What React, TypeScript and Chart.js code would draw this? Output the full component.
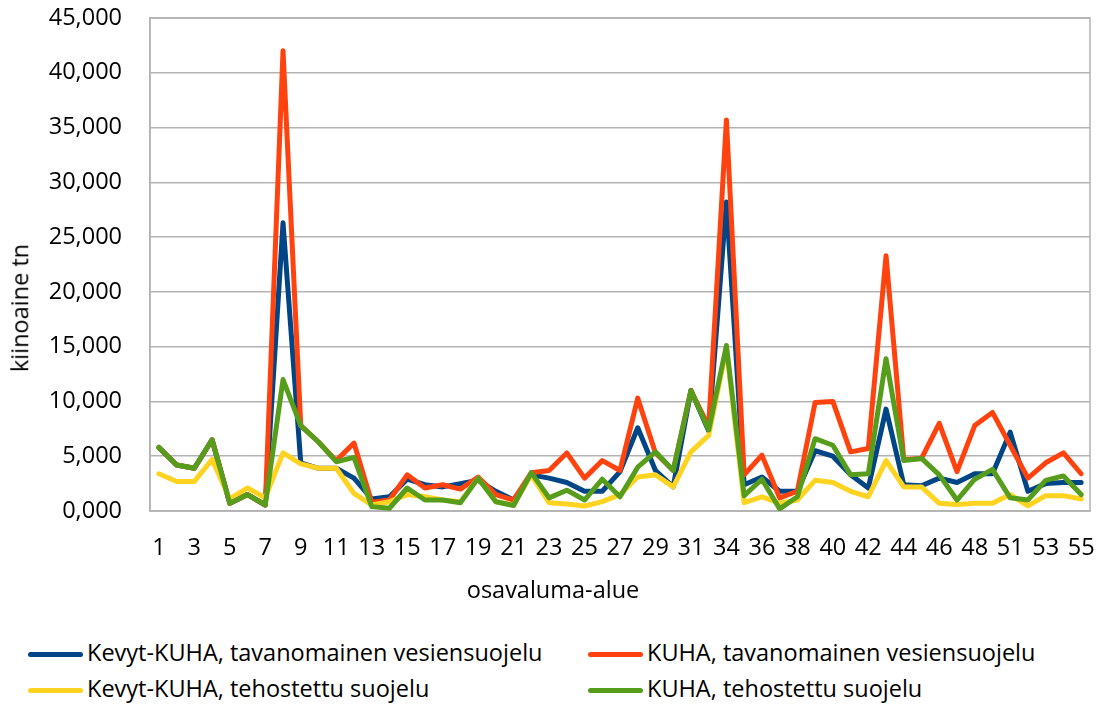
import React, { useEffect, useRef } from 'react';
import { Chart, registerables } from 'chart.js';

Chart.register(...registerables);

const categories = [
  '1', '2', '3', '4', '5', '6', '7', '8', '9', '10', '11', '12', '13', '14', '15', '16',
  '17', '18', '19', '20', '21', '22', '23', '24', '25', '26', '27', '28', '29', '30', '31', '32',
  '34', '35', '36', '37', '38', '39', '40', '41', '42', '43', '44', '45', '46', '47', '48', '49',
  '51', '52', '53', '54', '55',
];

const kevytTavanomainen = [
  5.8, 4.2, 3.9, 6.5, 0.7, 1.5, 0.55, 26.3, 4.4, 3.9,
  3.9, 3.0, 1.1, 1.3, 2.9, 2.4, 2.2, 2.5, 2.8, 1.8,
  1.0, 3.3, 3.0, 2.6, 1.8, 1.8, 3.6, 7.6, 3.7, 2.2,
  11.0, 7.3, 28.2, 2.4, 3.1, 1.8, 1.8, 5.5, 5.0, 3.3,
  2.1, 9.3, 2.4, 2.3, 3.0, 2.6, 3.4, 3.4, 7.2, 1.8,
  2.5, 2.6, 2.6,
];

const kuhaTavanomainen = [
  5.8, 4.2, 3.9, 6.5, 0.7, 1.5, 0.55, 42.0, 7.8, 6.3,
  4.6, 6.2, 0.8, 1.0, 3.3, 2.1, 2.4, 2.0, 3.1, 1.5,
  1.0, 3.5, 3.7, 5.3, 3.0, 4.6, 3.7, 10.3, 5.3, 3.7,
  11.0, 7.7, 35.7, 3.3, 5.1, 1.2, 1.8, 9.9, 10.0, 5.4,
  5.7, 23.3, 4.7, 4.8, 8.0, 3.6, 7.8, 9.0, 6.0, 3.0,
  4.4, 5.3, 3.4,
];

const kevytTehostettu = [
  3.4, 2.7, 2.7, 4.7, 1.1, 2.1, 1.2, 5.3, 4.3, 3.9,
  3.9, 1.6, 0.55, 0.85, 1.5, 1.3, 1.0, 0.85, 3.0, 0.85,
  0.55, 3.3, 0.76, 0.64, 0.46, 0.85, 1.5, 3.1, 3.3, 2.2,
  5.4, 6.9, 14.8, 0.76, 1.3, 0.7, 1.0, 2.8, 2.6, 1.8,
  1.3, 4.6, 2.2, 2.2, 0.7, 0.6, 0.7, 0.7, 1.5, 0.46,
  1.4, 1.4, 1.1,
];

const kuhaTehostettu = [
  5.8, 4.2, 3.9, 6.5, 0.7, 1.5, 0.55, 12.0, 7.8, 6.3,
  4.5, 4.9, 0.4, 0.25, 2.1, 1.0, 1.0, 0.76, 3.0, 0.85,
  0.5, 3.5, 1.2, 1.9, 1.0, 2.9, 1.3, 4.0, 5.4, 3.7,
  11.0, 7.4, 15.1, 1.4, 2.9, 0.2, 1.3, 6.6, 6.0, 3.3,
  3.4, 13.9, 4.6, 4.8, 3.3, 1.0, 2.9, 3.8, 1.2, 1.0,
  2.8, 3.2, 1.5,
];

const seriesNames = [
  'Kevyt-KUHA, tavanomainen vesiensuojelu',
  'KUHA, tavanomainen vesiensuojelu',
  'Kevyt-KUHA, tehostettu suojelu',
  'KUHA, tehostettu suojelu',
];
const seriesColors = ['#004586', '#ff420e', '#ffd320', '#579d1c'];
const seriesValues = [kevytTavanomainen, kuhaTavanomainen, kevytTehostettu, kuhaTehostettu];

const yMin = 0;
const yMax = 45;
const yStep = 5;
const yTitle = 'kiinoaine tn';
const xTitle = 'osavaluma-alue';

const FONT = "'Open Sans', sans-serif";
const FS = 23.5;
const GRID = '#b3b3b3';

const frame = {
  id: 'frame',
  beforeDatasetsDraw(chart: any) {
    const { ctx, chartArea } = chart;
    ctx.save();
    ctx.strokeStyle = GRID;
    ctx.lineWidth = 1.5;
    ctx.strokeRect(chartArea.left, chartArea.top, chartArea.right - chartArea.left, chartArea.bottom - chartArea.top);
    ctx.restore();
  },
};

export default function App() {
  const ref = useRef<HTMLCanvasElement | null>(null);

  useEffect(() => {
    if (!ref.current) return;
    const chart = new Chart(ref.current, {
      type: 'line',
      data: {
        labels: categories,
        datasets: seriesValues.map((vals, i) => ({
          label: seriesNames[i],
          data: vals,
          borderColor: seriesColors[i],
          backgroundColor: seriesColors[i],
          borderWidth: 5,
          pointRadius: 0,
          tension: 0,
          fill: false,
          borderJoinStyle: 'round' as const,
          borderCapStyle: 'round' as const,
          order: 3 - i,
        })),
      },
      options: {
        responsive: false,
        animation: false,
        layout: { padding: { top: 18, right: 13, left: 0, bottom: 0 } },
        plugins: {
          legend: { display: false },
          tooltip: { enabled: false },
        },
        scales: {
          x: {
            type: 'category',
            offset: true,
            grid: { display: false, drawTicks: false },
            border: { display: true, color: GRID, width: 1.5 },
            ticks: {
              autoSkip: false,
              maxRotation: 0,
              minRotation: 0,
              padding: 23,
              color: '#000',
              font: { family: FONT, size: FS },
              callback: (_v: any, idx: number) => (idx % 2 === 0 ? categories[idx] : ''),
            },
            title: { display: false },
            afterFit: (scale: any) => {
              scale.height = 109;
              scale.paddingLeft = 0;
              scale.paddingRight = 0;
            },
          },
          y: {
            min: yMin,
            max: yMax,
            grid: { color: GRID, lineWidth: 1.5, drawTicks: false },
            border: { display: true, color: GRID, width: 1.5 },
            ticks: {
              stepSize: yStep,
              padding: 28,
              color: '#000',
              font: { family: FONT, size: FS },
              callback: (v: any) => Number(v).toFixed(3).replace('.', ','),
            },
            afterFit: (scale: any) => {
              scale.width = 150;
              scale.paddingTop = 0;
              scale.paddingBottom = 0;
            },
          },
        },
      },
      plugins: [frame],
    });
    return () => chart.destroy();
  }, []);

  const legendCols = [28, 588];
  const legendRows = [654, 690];

  return (
    <div
      style={{
        position: 'absolute',
        left: 0,
        top: 0,
        width: 1103,
        height: 704,
        background: '#fff',
        fontFamily: FONT,
        overflow: 'hidden',
      }}
    >
      <canvas ref={ref} width={1103} height={620} style={{ position: 'absolute', left: 0, top: 0 }} />
      <span
        style={{
          position: 'absolute',
          left: 20,
          top: 308,
          transform: 'translate(-50%, -50%) rotate(-90deg)',
          whiteSpace: 'nowrap',
          fontSize: FS,
          lineHeight: 1,
          color: '#000',
        }}
      >
        {yTitle}
      </span>
      <span
        style={{
          position: 'absolute',
          left: 553,
          top: 590,
          transform: 'translate(-50%, -50%)',
          whiteSpace: 'nowrap',
          fontSize: FS,
          lineHeight: 1,
          color: '#000',
        }}
      >
        {xTitle}
      </span>
      {seriesNames.map((name, i) => {
        const left = legendCols[i % 2];
        const cy = legendRows[Math.floor(i / 2)];
        return (
          <React.Fragment key={name}>
            <div
              style={{
                position: 'absolute',
                left,
                top: cy - 2.5,
                width: 55,
                height: 5,
                borderRadius: 3,
                background: seriesColors[i],
              }}
            />
            <span
              style={{
                position: 'absolute',
                left: left + 59,
                top: cy - 1,
                transform: 'translateY(-50%)',
                whiteSpace: 'nowrap',
                fontSize: FS,
                lineHeight: 1,
                color: '#000',
              }}
            >
              {name}
            </span>
          </React.Fragment>
        );
      })}
    </div>
  );
}
